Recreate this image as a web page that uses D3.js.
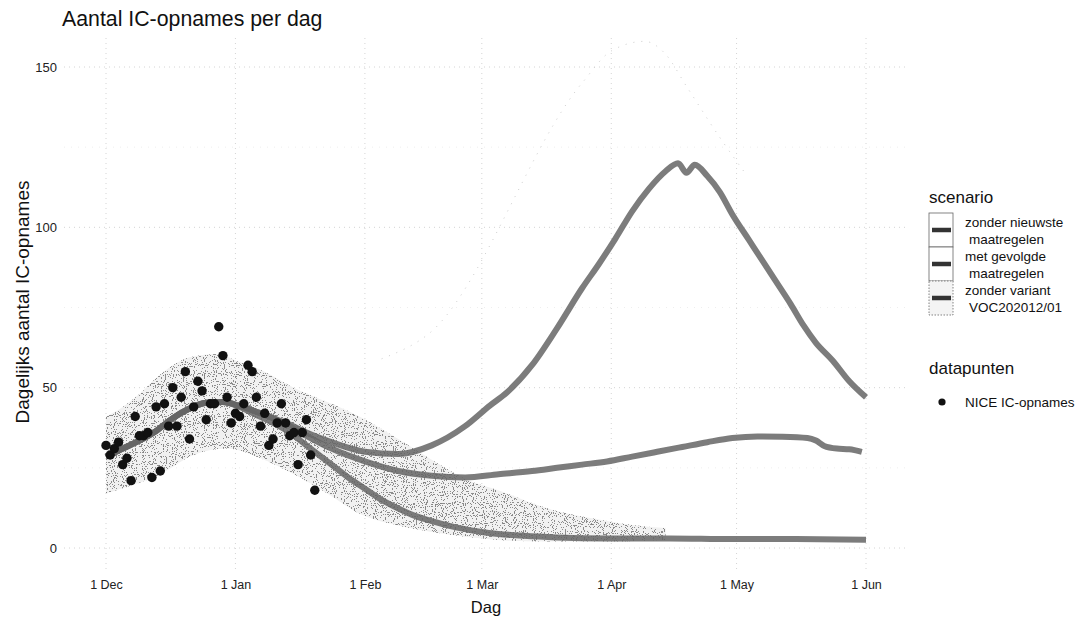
<!DOCTYPE html>
<html>
<head>
<meta charset="utf-8">
<script src="https://cdn.jsdelivr.net/npm/d3@7"></script>
<style>
  html, body { margin: 0; padding: 0; background: #fff; }
  svg { display: block; font-family: "Liberation Sans", Arial, Helvetica, sans-serif; }
</style>
</head>
<body>
<svg id="chart" width="1083" height="625"></svg>
<script>
// ---------------- DATA ----------------
// Day offsets are counted from 1 Dec 2020.
const startDate = new Date(2020, 11, 1);

// NICE IC-opnames (daily points, 1 Dec 2020 - 20 Jan 2021)
const niceValues = [32, 29, 31, 33, 26, 28, 21, 41, 35, 35, 36, 22, 44, 24, 45, 38, 50, 38, 47, 55,
                    34, 44, 52, 49, 40, 45, 45, 69, 60, 47, 39, 42, 41, 45, 57, 55, 47, 38, 42, 32,
                    34, 39, 45, 39, 35, 36, 26, 36, 40, 29, 18];

// scenario: zonder nieuwste maatregelen
const daysA = [0, 4, 8, 12, 16, 20, 24, 28, 32, 36, 40, 44, 48, 54, 62, 70, 78, 86, 92, 96, 102, 108, 114,
               118, 122, 126, 130, 134, 137, 139, 141, 144, 147, 150, 154, 157, 160, 164, 167, 170, 174, 178, 182];
const valsA = [28.5, 31, 33.5, 36.5, 40.5, 43.5, 45.3, 45.5, 44.3, 42.5, 40.5, 38.5, 36, 33, 30, 29.3, 32, 38, 44.5, 48.5, 57, 68.5, 81,
               88.5, 96.5, 105, 112, 117.5, 120, 117, 119.5, 116, 111, 104, 96, 90, 84, 76, 69.5, 64, 58.5, 52, 47];

// scenario: met gevolgde maatregelen
const daysB = [0, 4, 8, 12, 16, 20, 24, 28, 32, 36, 40, 44, 48, 54, 62, 70, 78, 86, 94, 102, 108, 114, 120,
               126, 132, 138, 144, 150, 156, 162, 168, 170, 172, 175, 178, 181];
const valsB = [28.5, 31, 33.5, 36.5, 40.5, 43.5, 45.3, 45.5, 44.3, 42.5, 40.5, 38, 35, 31, 27, 24, 22.5, 22, 23, 24, 25, 26, 27,
               28.5, 30, 31.5, 33, 34.3, 34.8, 34.7, 34.3, 33.5, 31.8, 31, 30.8, 30];

// scenario: zonder variant VOC202012/01
const daysC = [0, 4, 8, 12, 16, 20, 24, 28, 32, 36, 40, 44, 48, 54, 58, 62, 66, 70, 74, 78, 82, 86, 90, 94,
               100, 108, 120, 135, 150, 165, 182];
const valsC = [28.5, 31, 33.5, 36.5, 40.5, 43.5, 45.3, 45.5, 44, 41.5, 39, 36, 32, 26, 22, 18.5, 15, 12.3, 10, 8.4, 7, 5.9, 5, 4.4,
               3.8, 3.3, 3, 3, 2.8, 2.8, 2.6];

// visible uncertainty band
const bandUpperDays = [0, 4, 8, 12, 16, 20, 27, 31, 38, 45, 53, 60, 70, 80, 87, 94, 101, 108, 114, 120, 127, 134];
const bandUpper     = [41, 44, 48, 53, 57, 59.5, 60.5, 58.5, 55, 50, 45.5, 41.5, 34, 26, 21, 18, 14.5, 11.5, 9.8, 8.4, 7, 6.2];
const bandLowerDays = [0, 5, 13, 21, 29, 37, 45, 53, 61, 70, 78, 86, 94, 105, 120, 134];
const bandLower     = [17, 19, 23, 29, 31, 28, 23, 17, 10.5, 7, 5, 3.5, 2.5, 2, 2, 2.5];

// faint upper edge of the wide band (scattered in the scan)
const faintDays = [66, 77, 114, 121, 129, 134, 139, 147, 153];
const faintVals = [59, 66.5, 145, 155, 158, 154, 144, 128, 117];

const yTicks = [0, 50, 100, 150];
const monthTicks = ["2020-12-01", "2021-01-01", "2021-02-01", "2021-03-01", "2021-04-01", "2021-05-01", "2021-06-01"];

const scenarioLabels = [["zonder nieuwste", "maatregelen"], ["met gevolgde", "maatregelen"], ["zonder variant", "VOC202012/01"]];
const pointLabel = "NICE IC-opnames";

// ---------------- CHART ----------------
const svg = d3.select("#chart");
const W = 1083, H = 625;
const panel = {left: 64, right: 908, top: 38, bottom: 572};

const day = d => d3.timeDay.offset(startDate, d);
const x = d3.scaleTime().domain([startDate, new Date(2021, 5, 1)]).range([106, 866]);
const y = d3.scaleLinear().domain([0, 150]).range([548, 67]);

svg.append("rect").attr("width", W).attr("height", H).attr("fill", "#fff");

// stipple filter (pixel noise thresholded inside the shape)
const defs = svg.append("defs");
const flt = defs.append("filter").attr("id", "stipple")
  .attr("x", "-2%").attr("y", "-2%").attr("width", "104%").attr("height", "104%");
flt.append("feTurbulence").attr("type", "fractalNoise").attr("baseFrequency", 0.9)
  .attr("numOctaves", 1).attr("seed", 3).attr("result", "noise");
flt.append("feColorMatrix").attr("in", "noise").attr("type", "matrix")
  .attr("values", "0 0 0 0 0.2  0 0 0 0 0.2  0 0 0 0 0.2  1 0 0 0 0").attr("result", "dots0");
const ct = flt.append("feComponentTransfer").attr("in", "dots0").attr("result", "dots");
ct.append("feFuncA").attr("type", "discrete").attr("tableValues", "0 0 0 0 0 0 0.85 0.95 1 1");
flt.append("feComposite").attr("in", "dots").attr("in2", "SourceGraphic").attr("operator", "in");

// grid
const grid = svg.append("g");
yTicks.forEach(t => {
  grid.append("line").attr("x1", panel.left).attr("x2", panel.right).attr("y1", y(t)).attr("y2", y(t))
    .attr("stroke", "#cfcfcf").attr("stroke-width", 0.9).attr("stroke-dasharray", "1,4");
});
[25, 75, 125].forEach(t => {
  grid.append("line").attr("x1", panel.left).attr("x2", panel.right).attr("y1", y(t)).attr("y2", y(t))
    .attr("stroke", "#e6e6e6").attr("stroke-width", 0.7).attr("stroke-dasharray", "1,6");
});
monthTicks.forEach(m => {
  const xx = x(new Date(m + "T00:00:00"));
  grid.append("line").attr("x1", xx).attr("x2", xx).attr("y1", panel.top).attr("y2", panel.bottom)
    .attr("stroke", "#cfcfcf").attr("stroke-width", 0.9).attr("stroke-dasharray", "1,4");
});

// band
const upperPts = bandUpperDays.map((d, i) => [x(day(d)), y(bandUpper[i])]);
const lowerPts = bandLowerDays.map((d, i) => [x(day(d)), y(bandLower[i])]);
const lineGen = d3.line().curve(d3.curveMonotoneX);
const upperPath = lineGen(upperPts);
const lowerPathRev = lineGen(lowerPts.slice().reverse());
const areaStr = upperPath + "L" + lowerPathRev.slice(1) + "Z";
svg.append("path").attr("d", areaStr).attr("fill", "#f1f1f1").attr("stroke", "none");
svg.append("path").attr("d", areaStr).attr("fill", "#000").attr("stroke", "none").attr("filter", "url(#stipple)");

// faint upper edge
svg.append("path")
  .attr("d", d3.line().curve(d3.curveMonotoneX).x(d => x(day(d))).y((d, i) => y(faintVals[i]))(faintDays))
  .attr("fill", "none").attr("stroke", "#cdcdcd").attr("stroke-width", 1).attr("stroke-dasharray", "1,7");

// scenario lines
const series = [[daysA, valsA], [daysB, valsB], [daysC, valsC]];
series.forEach(([ds, vs]) => {
  svg.append("path")
    .attr("d", d3.line().curve(d3.curveMonotoneX).x(d => x(day(d))).y((d, i) => y(vs[i]))(ds))
    .attr("fill", "none").attr("stroke", "#656565").attr("stroke-width", 6)
    .attr("stroke-opacity", 0.85).attr("stroke-linejoin", "round");
});

// points
svg.append("g").selectAll("circle").data(niceValues).join("circle")
  .attr("cx", (v, i) => x(day(i))).attr("cy", v => y(v)).attr("r", 4.7).attr("fill", "#111");

// axes
const xAxis = d3.axisBottom(x).tickValues(monthTicks.map(m => new Date(m + "T00:00:00")))
  .tickFormat(d3.timeFormat("%-d %b")).tickSize(0).tickPadding(8);
const gx = svg.append("g").attr("transform", `translate(0,${panel.bottom})`).call(xAxis);
gx.select(".domain").remove();
gx.selectAll("text").attr("font-size", 12.5).attr("fill", "#222").attr("font-family", "Liberation Sans, Arial, sans-serif");

const yAxis = d3.axisLeft(y).tickValues(yTicks).tickSize(0).tickPadding(7);
const gy = svg.append("g").attr("transform", `translate(${panel.left},0)`).call(yAxis);
gy.select(".domain").remove();
gy.selectAll("text").attr("font-size", 13).attr("fill", "#222").attr("font-family", "Liberation Sans, Arial, sans-serif");

// titles
svg.append("text").attr("x", 62).attr("y", 26).attr("font-size", 21.3).attr("fill", "#111")
  .text("Aantal IC-opnames per dag");
svg.append("text").attr("x", (panel.left + panel.right) / 2).attr("y", 613).attr("text-anchor", "middle")
  .attr("font-size", 16.5).attr("fill", "#111").text("Dag");
svg.append("text").attr("transform", "translate(29,302) rotate(-90)").attr("text-anchor", "middle")
  .attr("font-size", 19).attr("fill", "#111").text("Dagelijks aantal IC-opnames");

// legend: scenario
const lg = svg.append("g");
lg.append("text").attr("x", 929).attr("y", 203).attr("font-size", 17).attr("fill", "#111").text("scenario");
scenarioLabels.forEach((lab, i) => {
  const top = 213 + i * 34;
  lg.append("rect").attr("x", 929).attr("y", top).attr("width", 24).attr("height", 34)
    .attr("fill", i === 2 ? "#f4f4f4" : "#fff").attr("stroke", "#666").attr("stroke-width", 0.8)
    .attr("stroke-dasharray", i === 2 ? "1.5,1.5" : null);
  lg.append("line").attr("x1", 932).attr("x2", 951).attr("y1", top + 17).attr("y2", top + 17)
    .attr("stroke", "#333").attr("stroke-width", 4.5);
  lg.append("text").attr("x", 965).attr("y", top + 14).attr("font-size", 13.5).attr("fill", "#111").text(lab[0]);
  lg.append("text").attr("x", 969).attr("y", top + 31).attr("font-size", 13.5).attr("fill", "#111").text(lab[1]);
});

// legend: datapunten
lg.append("text").attr("x", 929).attr("y", 374).attr("font-size", 17).attr("fill", "#111").text("datapunten");
lg.append("circle").attr("cx", 942).attr("cy", 402).attr("r", 3.6).attr("fill", "#111");
lg.append("text").attr("x", 965).attr("y", 407).attr("font-size", 13.5).attr("fill", "#111").text(pointLabel);
</script>
</body>
</html>
